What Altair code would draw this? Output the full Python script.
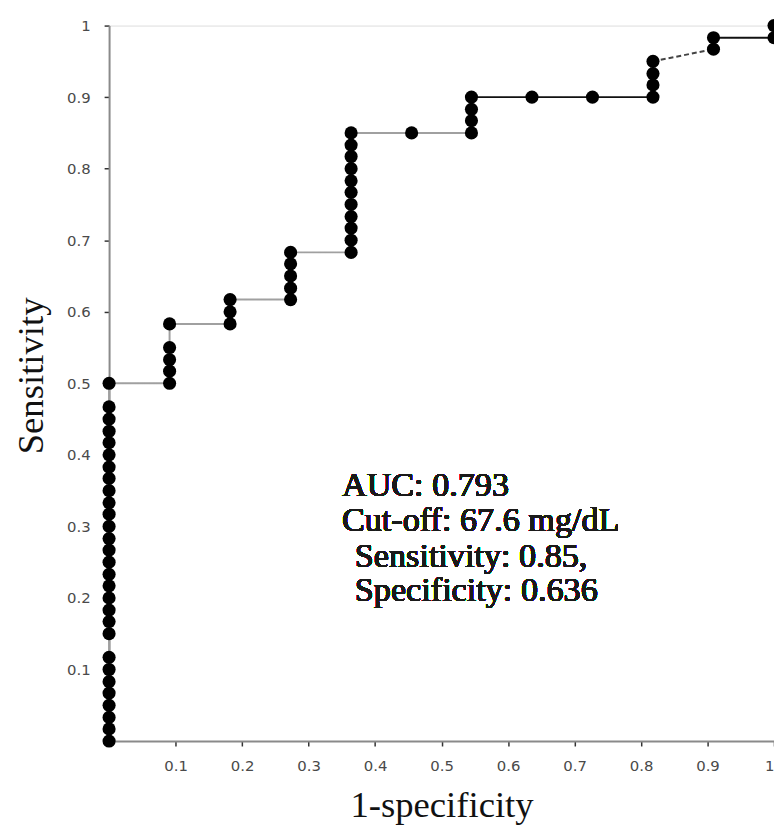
import altair as alt
import pandas as pd

# 1-specificity value of each column of points, and the sensitivities found in that column
fpr_cols = [0.0, 0.091, 0.182, 0.273, 0.364, 0.455, 0.545, 0.636, 0.727, 0.818, 0.909, 1.0]
sens_cols = [
    [0.0, 0.017, 0.033, 0.05, 0.067, 0.083, 0.1, 0.117,
     0.15, 0.167, 0.183, 0.2, 0.217, 0.233, 0.25, 0.267, 0.283, 0.3, 0.317, 0.333,
     0.35, 0.367, 0.383, 0.4, 0.417, 0.433, 0.45, 0.467, 0.5],
    [0.5, 0.517, 0.533, 0.55, 0.583],
    [0.583, 0.6, 0.617],
    [0.617, 0.633, 0.65, 0.667, 0.683],
    [0.683, 0.7, 0.717, 0.733, 0.75, 0.767, 0.783, 0.8, 0.817, 0.833, 0.85],
    [0.85],
    [0.85, 0.867, 0.883, 0.9],
    [0.9],
    [0.9],
    [0.9, 0.917, 0.933, 0.95],
    [0.967, 0.983],
    [0.983, 1.0],
]
tick_vals = [0.1, 0.2, 0.3, 0.4, 0.5, 0.6, 0.7, 0.8, 0.9, 1.0]
note_lines = ["AUC: 0.793", "Cut-off: 67.6 mg/dL", "Sensitivity: 0.85,", "Specificity: 0.636"]

fpr, tpr = [], []
for x, ys in zip(fpr_cols, sens_cols):
    for y in ys:
        fpr.append(x)
        tpr.append(y)
pts = pd.DataFrame({"fpr": fpr, "tpr": tpr})

segs = pd.DataFrame({"x": fpr[:-1], "y": tpr[:-1], "x2": fpr[1:], "y2": tpr[1:]})


def seg_style(r):
    if r.x == 0.818 and r.x2 == 0.909:
        return "dash"
    if r.x2 <= 0.545 and r.y2 <= 0.85:
        return "gray"
    return "black"


segs["style"] = segs.apply(seg_style, axis=1)

xscale = alt.Scale(domain=[0, 1], nice=False, zero=True)
yscale = alt.Scale(domain=[0, 1], nice=False, zero=True)

axis_common = dict(
    values=tick_vals, format=".1~f", grid=False,
    domainColor="#8a8a8a", domainWidth=2,
    tickColor="#333333", tickSize=5, tickWidth=1.5,
    labelFont="DejaVu Sans", labelFontSize=15, labelColor="#4a4a4a",
    titleFont="Liberation Serif", titleFontSize=37, titleFontWeight="normal", titleColor="#111111",
)

x_axis = alt.Axis(title="1-specificity", labelPadding=13, titleBaseline="alphabetic",
                  titleY=76, titleAnchor="middle", **axis_common)
y_axis = alt.Axis(title="Sensitivity", labelPadding=14, titleBaseline="alphabetic",
                  titleAngle=-90, titleX=-67, titleY=353, titleAlign="center", **axis_common)

lines = alt.Chart(segs).mark_rule(strokeWidth=2).encode(
    x=alt.X("x:Q", scale=xscale, axis=x_axis),
    x2="x2:Q",
    y=alt.Y("y:Q", scale=yscale, axis=y_axis),
    y2="y2:Q",
    color=alt.Color("style:N", scale=alt.Scale(domain=["gray", "black", "dash"],
                                               range=["#a0a0a0", "#111111", "#444444"]), legend=None),
    strokeDash=alt.StrokeDash("style:N", scale=alt.Scale(domain=["gray", "black", "dash"],
                                                         range=[[1, 0], [1, 0], [5, 3]]), legend=None),
)

dots = alt.Chart(pts).mark_circle(size=175, color="black", opacity=1).encode(
    x=alt.X("fpr:Q", scale=xscale),
    y=alt.Y("tpr:Q", scale=yscale),
)

note_x = [235, 235, 248, 248]
note_y = [475, 510, 546, 581]
notes = [
    alt.Chart(pts).mark_text(text=t, font="Liberation Serif", fontSize=34.5, color="#1a1a1a",
                             align="left", baseline="alphabetic").encode(
        x=alt.value(nx), y=alt.value(ny))
    for t, nx, ny in zip(note_lines, note_x, note_y)
]

chart = alt.layer(lines, dots, *notes).properties(
    width=671, height=722,
    autosize=alt.AutoSizeParams(type="none"),
    padding={"left": 102, "top": 14, "right": 0, "bottom": 82},
).configure_view(stroke="#8a8a8a", strokeWidth=1.5).configure(background="white")

chart.save("out.html", embed_options={"renderer": "svg", "actions": False})
